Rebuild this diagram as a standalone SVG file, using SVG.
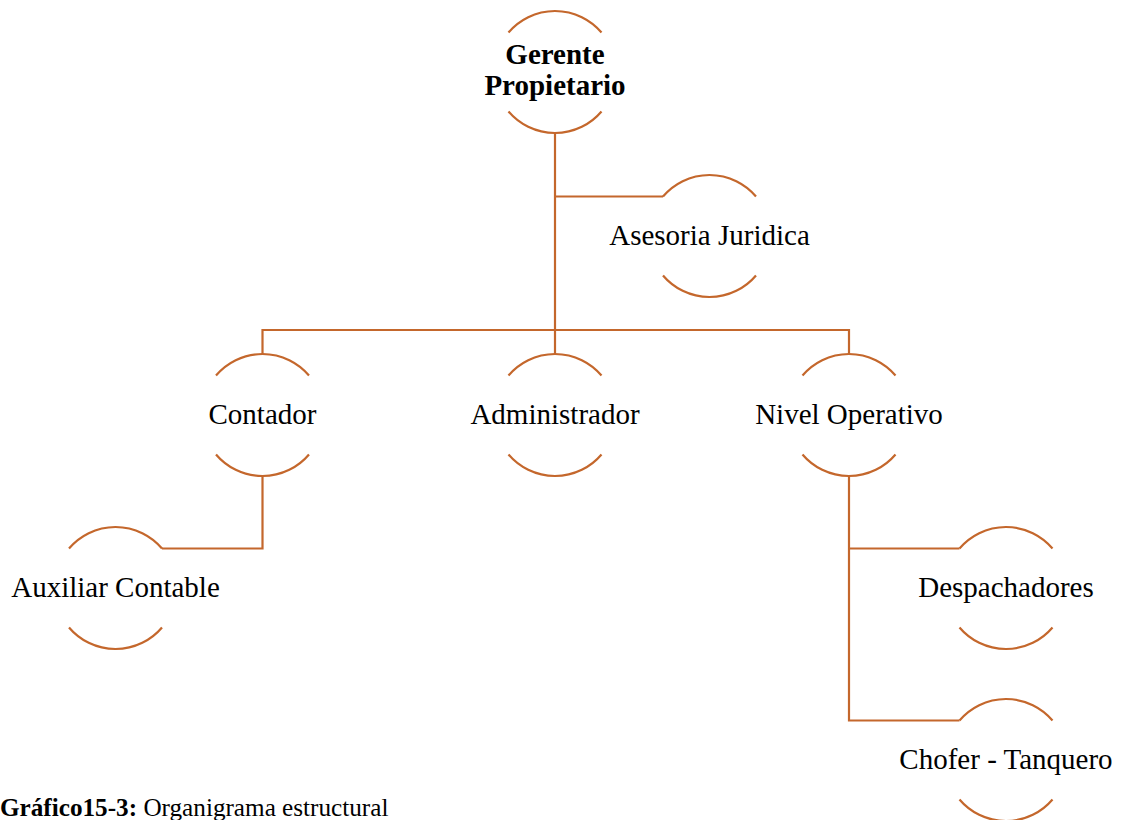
<svg xmlns="http://www.w3.org/2000/svg" width="1125" height="820" viewBox="0 0 1125 820">
<style>
.arc{fill:none;stroke:#C4672C;stroke-width:2.2}
.ln{fill:none;stroke:#C4672C;stroke-width:2.2}
.t{font-family:"Liberation Serif","Times New Roman",serif;font-size:29px;fill:#000;text-anchor:middle}
.b{font-weight:bold}
.cap{font-family:"Liberation Serif","Times New Roman",serif;font-size:25.2px;fill:#000}
</style>
<rect width="1125" height="820" fill="#fff"/>
<g id="connectors">
<path class="ln" d="M555,133 V354"/>
<path class="ln" d="M555,196.5 H663"/>
<path class="ln" d="M262.5,354 V330 H849 V354"/>
<path class="ln" d="M262.5,476 V548.5 H162"/>
<path class="ln" d="M849,476 V720.5 H959.5 M849,548.5 H959.5"/>
</g>
<g id="gerente">
<path class="arc" d="M508.5,32.5 A61,61 0 0 1 601.5,32.5 M508.5,111.5 A61,61 0 0 0 601.5,111.5"/>
<text class="t b" x="555" y="64">Gerente</text>
<text class="t b" x="555" y="95">Propietario</text>
</g>
<g id="asesoria">
<path class="arc" d="M663,196.5 A61,61 0 0 1 756,196.5 M663,275.5 A61,61 0 0 0 756,275.5"/>
<text class="t" x="709.5" y="245">Asesoria Juridica</text>
</g>
<g id="contador">
<path class="arc" d="M216,375.5 A61,61 0 0 1 309,375.5 M216,454.5 A61,61 0 0 0 309,454.5"/>
<text class="t" x="262.5" y="424">Contador</text>
</g>
<g id="administrador">
<path class="arc" d="M508.5,375.5 A61,61 0 0 1 601.5,375.5 M508.5,454.5 A61,61 0 0 0 601.5,454.5"/>
<text class="t" x="555" y="424">Administrador</text>
</g>
<g id="nivel-operativo">
<path class="arc" d="M802.5,375.5 A61,61 0 0 1 895.5,375.5 M802.5,454.5 A61,61 0 0 0 895.5,454.5"/>
<text class="t" x="849" y="424">Nivel Operativo</text>
</g>
<g id="auxiliar-contable">
<path class="arc" d="M69,548.5 A61,61 0 0 1 162,548.5 M69,627.5 A61,61 0 0 0 162,627.5"/>
<text class="t" x="115.5" y="597">Auxiliar Contable</text>
</g>
<g id="despachadores">
<path class="arc" d="M959.5,548.5 A61,61 0 0 1 1052.5,548.5 M959.5,627.5 A61,61 0 0 0 1052.5,627.5"/>
<text class="t" x="1006" y="597">Despachadores</text>
</g>
<g id="chofer-tanquero">
<path class="arc" d="M959.5,720.5 A61,61 0 0 1 1052.5,720.5 M959.5,799.5 A61,61 0 0 0 1052.5,799.5"/>
<text class="t" x="1006" y="769">Chofer - Tanquero</text>
</g>
<text class="cap" x="0" y="816"><tspan font-weight="bold">Gráfico15-3:</tspan> Organigrama estructural</text>
</svg>
